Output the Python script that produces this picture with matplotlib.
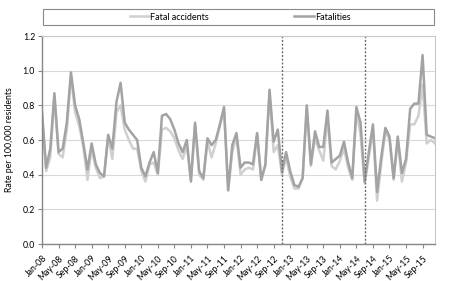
import matplotlib
matplotlib.use('Agg')
import matplotlib.pyplot as plt
from matplotlib.patches import Rectangle

# monthly rates, Jan-08 .. Dec-15
fatalities = [
    0.76, 0.44, 0.55, 0.87, 0.53, 0.55, 0.70, 0.99, 0.80, 0.72, 0.58, 0.43,
    0.58, 0.46, 0.41, 0.39, 0.63, 0.55, 0.82, 0.93, 0.70, 0.66, 0.63, 0.60,
    0.44, 0.39, 0.47, 0.53, 0.41, 0.74, 0.75, 0.72, 0.66, 0.58, 0.53, 0.60,
    0.36, 0.70, 0.42, 0.38, 0.61, 0.57, 0.60, 0.69, 0.79, 0.31, 0.57, 0.64,
    0.44, 0.47, 0.47, 0.46, 0.64, 0.37, 0.46, 0.89, 0.59, 0.66, 0.42, 0.53,
    0.42, 0.34, 0.33, 0.38, 0.80, 0.46, 0.65, 0.56, 0.56, 0.77, 0.47, 0.49,
    0.51, 0.59, 0.47, 0.38, 0.79, 0.70, 0.36, 0.53, 0.69, 0.30, 0.50, 0.67,
    0.62, 0.38, 0.62, 0.41, 0.49, 0.78, 0.81, 0.81, 1.09, 0.63, 0.62, 0.61,
]
fatal_accidents = [
    0.75, 0.42, 0.50, 0.85, 0.52, 0.50, 0.66, 0.97, 0.76, 0.68, 0.56, 0.37,
    0.55, 0.44, 0.38, 0.39, 0.62, 0.49, 0.76, 0.80, 0.66, 0.60, 0.55, 0.55,
    0.42, 0.36, 0.46, 0.47, 0.40, 0.66, 0.67, 0.65, 0.61, 0.54, 0.49, 0.57,
    0.37, 0.69, 0.40, 0.37, 0.59, 0.50, 0.58, 0.68, 0.78, 0.31, 0.53, 0.62,
    0.40, 0.43, 0.44, 0.43, 0.63, 0.37, 0.45, 0.87, 0.53, 0.57, 0.40, 0.50,
    0.39, 0.32, 0.32, 0.38, 0.79, 0.45, 0.61, 0.54, 0.48, 0.73, 0.45, 0.43,
    0.48, 0.55, 0.44, 0.37, 0.76, 0.63, 0.35, 0.50, 0.66, 0.25, 0.46, 0.65,
    0.60, 0.37, 0.60, 0.36, 0.47, 0.69, 0.69, 0.74, 0.92, 0.58, 0.60, 0.58,
]
tick_labels = [
    'Jan-08', 'May-08', 'Sep-08', 'Jan-09', 'May-09', 'Sep-09',
    'Jan-10', 'May-10', 'Sep-10', 'Jan-11', 'May-11', 'Sep-11',
    'Jan-12', 'May-12', 'Sep-12', 'Jan-13', 'May-13', 'Sep-13',
    'Jan-14', 'May-14', 'Sep-14', 'Jan-15', 'May-15', 'Sep-15',
]
break_months = [58, 78]  # Nov-12, Jul-14

plt.rcParams['font.family'] = ['Lato', 'DejaVu Sans']

fig = plt.figure(figsize=(4.5, 2.81), dpi=100)
ax = fig.add_axes([42 / 450, 1 - 244 / 281, 393 / 450, 208 / 281])

x = list(range(len(fatalities)))
l1, = ax.plot(x, fatal_accidents, color='#d0d0d0', lw=1.8, label='Fatal accidents')
l2, = ax.plot(x, fatalities, color='#a3a3a3', lw=1.8, label='Fatalities')

for m in break_months:
    ax.plot([m, m], [0, 1.2], color='#6e6e6e', lw=1.0, linestyle=(0, (1.5, 1.2)))

ax.set_xlim(0, len(x) - 1)
ax.set_ylim(0, 1.2)
ax.set_yticks([0.0, 0.2, 0.4, 0.6, 0.8, 1.0, 1.2])
ax.set_yticklabels(['%.1f' % v for v in ax.get_yticks()], fontsize=6.3)
ax.set_xticks(range(0, len(x), 4))
ax.set_xticklabels(tick_labels, rotation=45, ha='right', rotation_mode='anchor', fontsize=6.3)
ax.grid(True, axis='y', color='#d9d9d9', lw=0.8)
ax.set_axisbelow(True)
ax.tick_params(axis='both', length=3, width=0.8, color='#868686', pad=2)
ax.tick_params(axis='x', pad=4)
ax.set_ylabel('Rate per 100,000 residents', fontsize=6.3, labelpad=6)

for s in ['left', 'bottom']:
    ax.spines[s].set_color('#868686')
    ax.spines[s].set_linewidth(1.0)
for s in ['top', 'right']:
    ax.spines[s].set_color('#c8c8c8')
    ax.spines[s].set_linewidth(0.8)

fig.patches.append(Rectangle((43 / 450, 1 - 25 / 281), 391 / 450, 16 / 281,
                             transform=fig.transFigure, fill=False,
                             edgecolor='#8a8a8a', lw=0.8))
fig.legend(handles=[l1, l2], loc='center', bbox_to_anchor=(240 / 450, 1 - 17 / 281),
           ncol=2, frameon=False, fontsize=6.5, handlelength=2.2,
           handletextpad=0.1, columnspacing=9.4)

fig.savefig('out.png', dpi=100)
